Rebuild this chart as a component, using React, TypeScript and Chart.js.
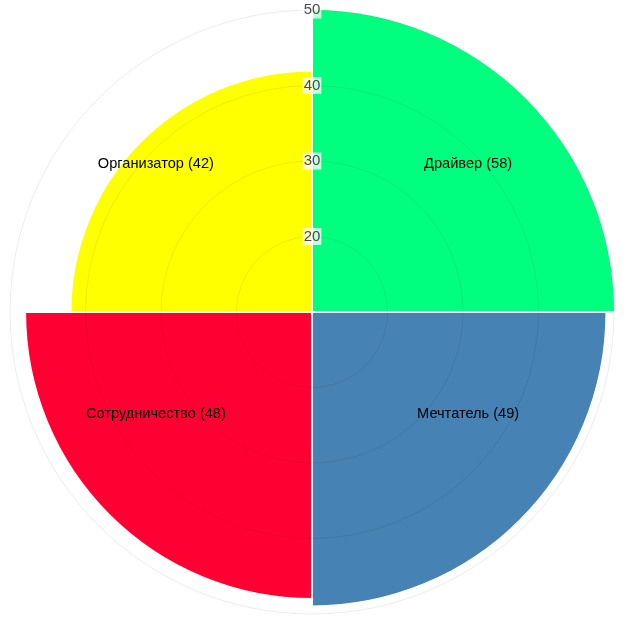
import React, { useEffect, useRef } from "react";
import { Chart, registerables } from "chart.js";

Chart.register(...registerables);

const labels = ["Драйвер", "Мечтатель", "Сотрудничество", "Организатор"];
const values = [58, 49, 48, 42];
const colors = ["#00FF7F", "#4682B4", "#FF0033", "#FFFF00"];
const scaleMin = 10;
const scaleMax = 50;
const tickValues = [10, 20, 30, 40, 50];

// Clip the arcs to the outer ring so values above the scale maximum stay inside it
const ringClip = {
  id: "ringClip",
  beforeDatasetsDraw(chart: any) {
    const r = chart.scales.r;
    const ctx = chart.ctx;
    ctx.save();
    ctx.beginPath();
    ctx.arc(r.xCenter, r.yCenter, r.drawingArea, 0, Math.PI * 2);
    ctx.clip();
  },
  afterDatasetsDraw(chart: any) {
    chart.ctx.restore();
  },
};

// Category captions inside each quadrant, offsets as fractions of the radius
const sectorLabels = {
  id: "sectorLabels",
  afterDraw(chart: any) {
    const r = chart.scales.r;
    const ctx = chart.ctx;
    const meta = chart.getDatasetMeta(0);
    ctx.save();
    ctx.font = "14.6px 'Liberation Sans', Arial, sans-serif";
    ctx.fillStyle = "#000";
    ctx.textAlign = "center";
    ctx.textBaseline = "middle";
    meta.data.forEach((arc: any, i: number) => {
      const a = (arc.startAngle + arc.endAngle) / 2;
      const sx = Math.sign(Math.cos(a));
      const upper = Math.sin(a) < 0;
      const x = r.xCenter + sx * r.drawingArea * 0.517;
      const y = r.yCenter + (upper ? -0.49 : 0.338) * r.drawingArea;
      ctx.fillText(`${labels[i]} (${values[i]})`, x, y);
    });
    ctx.restore();
  },
};

export default function App() {
  const ref = useRef<HTMLCanvasElement>(null);

  useEffect(() => {
    if (!ref.current) return;
    const chart = new Chart(ref.current, {
      type: "polarArea",
      data: {
        labels,
        datasets: [
          {
            data: values,
            backgroundColor: colors,
            borderColor: "#ffffff",
            borderWidth: 2,
          },
        ],
      },
      options: {
        animation: false,
        responsive: false,
        layout: { padding: 2 },
        plugins: {
          legend: { display: false },
          tooltip: { enabled: false },
        },
        scales: {
          r: {
            min: scaleMin,
            max: scaleMax,
            afterBuildTicks(axis: any) {
              axis.ticks = tickValues.map((v) => ({ value: v }));
            },
            grid: { color: "rgba(0,0,0,0.08)", lineWidth: 1, z: 1 },
            angleLines: { display: false },
            pointLabels: { display: false },
            ticks: {
              z: 1,
              color: "#4a4a4a",
              font: { size: 15, family: "'Liberation Sans', Arial, sans-serif" },
              backdropColor: "rgba(255,255,255,0.75)",
              backdropPadding: 1,
              showLabelBackdrop: true,
            },
          },
        },
      },
      plugins: [ringClip, sectorLabels],
    });
    return () => chart.destroy();
  }, []);

  return (
    <div style={{ position: "fixed", left: 0, top: 0, width: 625, height: 625, background: "#fff" }}>
      <canvas ref={ref} width={625} height={625} />
    </div>
  );
}
